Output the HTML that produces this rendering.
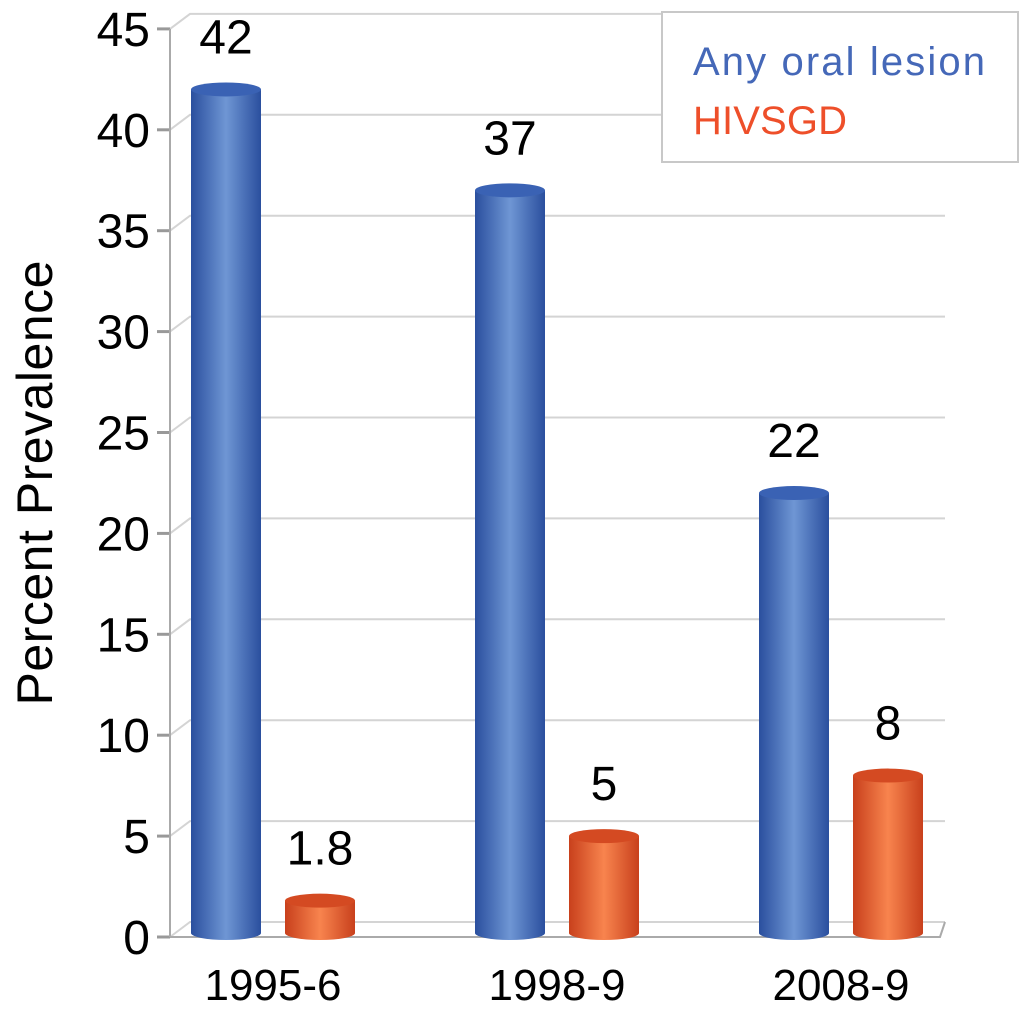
<!DOCTYPE html>
<html><head><meta charset="utf-8"><style>
body{margin:0;background:#fff;}
svg{display:block;font-family:"Liberation Sans",sans-serif;}
</style></head><body>
<svg id="chart" width="1024" height="1010">
<defs>
<linearGradient id="gb" x1="0" x2="1"><stop offset="0" stop-color="#2a4f9e"/><stop offset="0.5" stop-color="#6f96d4"/><stop offset="1" stop-color="#2a4f9e"/></linearGradient>
<linearGradient id="go" x1="0" x2="1"><stop offset="0" stop-color="#c8401c"/><stop offset="0.5" stop-color="#f8844e"/><stop offset="1" stop-color="#c8401c"/></linearGradient>
</defs>
<g id="grid"></g><g id="bars"></g><g id="labels"></g>
<text transform="translate(52,483) rotate(-90)" text-anchor="middle" font-size="50" fill="#000" textLength="445">Percent Prevalence</text>
<rect x="662" y="12" width="356" height="150" fill="#fff" stroke="#c8c8c8" stroke-width="2"/>
<text x="693" y="75" font-size="40" fill="#4568b8" textLength="292">Any oral lesion</text>
<text x="693" y="134" font-size="40" fill="#ee4f2a" textLength="154">HIVSGD</text>
</svg>
<script>
const categories=["1995-6","1998-9","2008-9"];
const anyOral=[42,37,22];
const hivsgd=[1.8,5,8];
const valueLabels1=["42","37","22"];
const valueLabels2=["1.8","5","8"];
const ticks=[0,5,10,15,20,25,30,35,40,45];
const NS="http://www.w3.org/2000/svg";
const y0=937,ppu=20.18,dx=20,dy=-15,axX=170,rightX=945;
function yS(v){return y0-v*ppu;}
function catX(i){return 191+i*284;}
function mk(tag,attrs,parent){const e=document.createElementNS(NS,tag);for(const k in attrs)e.setAttribute(k,attrs[k]);parent.appendChild(e);return e;}
const grid=document.getElementById('grid'),bars=document.getElementById('bars'),labels=document.getElementById('labels');
ticks.forEach(t=>{
  const y=yS(t);
  const g=mk('path',{d:`M${axX},${y} L${axX+dx},${y+dy} L${rightX},${y+dy}`,stroke:'#d4d4d4','stroke-width':2,fill:'none'},grid);
  
  
  const tk=mk('line',{x1:157,x2:axX,y1:y,y2:y,stroke:'#999','stroke-width':3},grid);
  
  
  const tx=mk('text',{x:150,y:y+17,'text-anchor':'end','font-size':48,fill:'#000'},labels);
  tx.textContent=t;
  
  
});
const ax=mk('line',{x1:axX,x2:axX,y1:yS(45),y2:y0,stroke:'#aaa','stroke-width':2},grid);


const fl=mk('path',{d:`M${axX},${y0} L${rightX-5},${y0} L${rightX},${y0+dy}`,stroke:'#aaa','stroke-width':2,fill:'none'},grid);


function cyl(x,v,fill,top,name,lab){
  const w=70,rx=35,ry=7,yt=yS(v),yb=y0-4;
  const p=mk('path',{d:`M${x},${yt} L${x},${yb} A${rx},${ry} 0 0 0 ${x+w},${yb} L${x+w},${yt} Z`,fill:fill},bars);
  
  
  const e=mk('ellipse',{cx:x+rx,cy:yt,rx:rx,ry:ry,fill:top},bars);
  
  
  const t=mk('text',{x:x+rx,y:yt-36,'text-anchor':'middle','font-size':48,fill:'#000'},labels);
  t.textContent=lab;
  
  
}
categories.forEach((c,i)=>{
  const x=catX(i);
  cyl(x,anyOral[i],'url(#gb)','#3a62b4','bar-any-oral-'+c,valueLabels1[i]);
  cyl(x+94,hivsgd[i],'url(#go)','#d44a22','bar-hivsgd-'+c,valueLabels2[i]);
  const t=mk('text',{x:x+82,y:1000,'text-anchor':'middle','font-size':44,fill:'#000'},labels);
  t.textContent=c;
  
  
});
</script>
</body></html>
